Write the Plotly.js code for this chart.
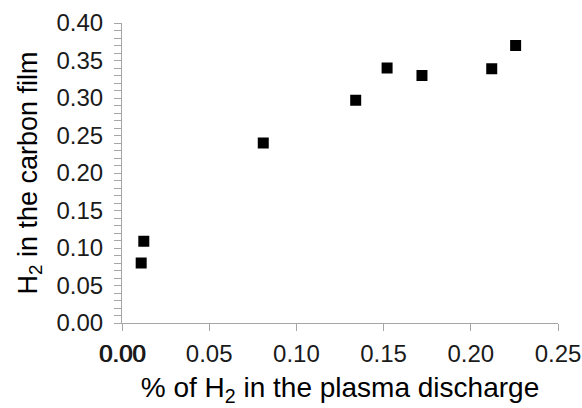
<!DOCTYPE html>
<html>
<head>
<meta charset="utf-8">
<script src="https://cdn.plot.ly/plotly-3.0.1.min.js"></script>
<style>html,body{margin:0;padding:0;background:#fff;}#chart{width:582px;height:408px;}</style>
</head>
<body>
<div id="chart"></div>
<script>
const h2Plasma = [0.011, 0.0125, 0.081, 0.134, 0.152, 0.172, 0.212, 0.2257];
const h2Film = [0.080, 0.109, 0.240, 0.297, 0.340, 0.330, 0.339, 0.370];
const xTickVals = [0, 0.05, 0.10, 0.15, 0.20, 0.25];
const xTickText = ["0.00", "0.05", "0.10", "0.15", "0.20", "0.25"];
const yTickVals = [0, 0.05, 0.10, 0.15, 0.20, 0.25, 0.30, 0.35, 0.40];
const yTickText = ["0.00", "0.05", "0.10", "0.15", "0.20", "0.25", "0.30", "0.35", "0.40"];
const xOriginTickVal = [0];
const xOriginTickText = ["0.00"];

const font = "Liberation Sans, Arial, sans-serif";
const trace = {
  x: h2Plasma, y: h2Film, type: "scatter", mode: "markers",
  marker: {symbol: "square", size: 11, color: "#000"},
  hoverinfo: "skip"
};
// empty helper trace to draw the overlapping (double-struck) "0.00" label
const helper = {x: [], y: [], type: "scatter", mode: "markers", xaxis: "x2", yaxis: "y", hoverinfo: "skip"};
const layout = {
  width: 582, height: 408,
  margin: {l: 122, r: 24, t: 23, b: 85},
  paper_bgcolor: "#fff", plot_bgcolor: "#fff",
  showlegend: false,
  font: {family: font, color: "#000", size: 24},
  xaxis: {
    range: [0, 0.25], tickvals: xTickVals, ticktext: xTickText,
    showgrid: false, zeroline: false, showline: true, linecolor: "#a6a6a6", linewidth: 1,
    ticks: "outside", ticklen: 7, tickcolor: "#a6a6a6", tickwidth: 1,
    tickfont: {family: font, size: 24, color: "#1a1a1a"},
    ticklabelstandoff: 2,
    title: {text: "% of H<sub>2</sub> in the plasma discharge", font: {family: font, size: 28, color: "#000"}, standoff: 11}
  },
  xaxis2: {
    overlaying: "x", side: "bottom", anchor: "y",
    range: [-0.0006, 0.2494], tickvals: xOriginTickVal, ticktext: xOriginTickText,
    showgrid: false, zeroline: false, showline: false,
    ticks: "outside", ticklen: 7, tickcolor: "rgba(0,0,0,0)", tickwidth: 1,
    tickfont: {family: font, size: 24, color: "#1a1a1a"},
    ticklabelstandoff: 2
  },
  yaxis: {
    range: [0, 0.40], tickvals: yTickVals, ticktext: yTickText,
    showgrid: false, zeroline: false, showline: true, linecolor: "#a6a6a6", linewidth: 1,
    ticks: "outside", ticklen: 7, tickcolor: "#a6a6a6", tickwidth: 1,
    minor: {dtick: 0.01, ticks: "outside", ticklen: 7, tickcolor: "#a6a6a6", tickwidth: 1, showgrid: false},
    tickfont: {family: font, size: 24, color: "#1a1a1a"},
    ticklabelstandoff: 6,
    title: {text: "H<sub>2</sub> in the carbon film", font: {family: font, size: 27, color: "#000"}, standoff: 11}
  }
};
Plotly.newPlot("chart", [trace, helper], layout, {displayModeBar: false, staticPlot: true});
</script>
</body>
</html>
